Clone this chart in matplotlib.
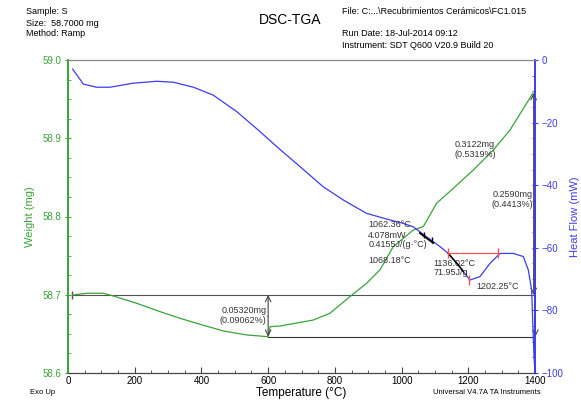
import numpy as np
import matplotlib
matplotlib.use('Agg')
import matplotlib.pyplot as plt
from matplotlib.ticker import MultipleLocator

plt.rcParams['font.family'] = ['Liberation Sans', 'DejaVu Sans']

# TGA: peso (mg) frente a temperatura
temp_tga = [14, 56, 106, 136, 206, 276, 336, 396, 466, 536, 600,
            606, 636, 735, 785, 845, 895, 935, 975, 1035, 1065,
            1105, 1155, 1215, 1275, 1325, 1394]
weight_mg = [58.6997, 58.7019, 58.7019, 58.6984, 58.6891, 58.6784, 58.6699,
             58.6622, 58.6537, 58.6486, 58.6464,
             58.6592, 58.6601, 58.6677, 58.6763, 58.6975, 58.7146, 58.7316,
             58.7614, 58.7827, 58.7870, 58.8169, 58.8360, 58.8594, 58.8850,
             58.9105, 58.9578]

# DSC: flujo de calor (mW)
temp_dsc = [14, 46, 86, 126, 196, 266, 316, 376, 435, 506, 576, 626, 696,
            765, 825, 895, 965, 1005, 1035, 1075, 1115, 1140, 1170, 1205,
            1235, 1265, 1295, 1335, 1365, 1380, 1390, 1393, 1397, 1400]
heat_flow = [-2.9, -7.7, -8.7, -8.7, -7.4, -6.8, -7.1, -8.7, -11.2, -16.5,
             -22.9, -27.7, -34.1, -40.5, -44.7, -49.0, -51.1, -52.2, -53.3,
             -56.5, -59.6, -61.8, -65.5, -70.3, -69.2, -65.0, -61.8, -61.8,
             -62.8, -67.1, -73.5, -83.1, -94.8, -100]

# Escalones de peso
step_temp = 600
w_start = 58.6997
w_min = 58.6464
w_end = 58.9578
end_temp = 1396

# Pico DSC
peak_start, peak_end, peak_min = 1140, 1290, 1202.25
peak_base = -61.8

green = '#3aa33a'
blue = '#3c3cf0'

fig = plt.figure(figsize=(5.81, 4.0), dpi=100)
ax = fig.add_axes([68/581, 1 - 373/400, 467/581, 313/400])
ax2 = ax.twinx()

ax.plot(temp_tga, weight_mg, color=green, lw=0.9, zorder=3)
ax2.plot(temp_dsc, heat_flow, color=blue, lw=0.9, zorder=3)

ax.set_xlim(0, 1400)
ax.set_ylim(58.6, 59.0)
ax2.set_ylim(-100, 0)

# lineas horizontales de referencia
ax.plot([12, 1400], [w_start, w_start], color='#555555', lw=0.8)
ax.plot([12], [w_start], marker='|', color='#555555', ms=6)
ax.plot([step_temp, 1400], [w_min, w_min], color='#333333', lw=0.8)

arr = dict(arrowstyle='->', color='#444444', lw=0.8, shrinkA=0, shrinkB=0)
ax.annotate('', xy=(step_temp, w_start), xytext=(step_temp, 58.672), arrowprops=arr)
ax.annotate('', xy=(step_temp, w_min), xytext=(step_temp, 58.672), arrowprops=arr)
ax.text(step_temp - 5, 58.6735, '0.05320mg\n(0.09062%)', ha='right', va='center',
        fontsize=6.5, color='#333333', linespacing=1.1)

ax.annotate('', xy=(end_temp, w_end), xytext=(end_temp, 58.82), arrowprops=arr)
ax.annotate('', xy=(end_temp, w_start), xytext=(end_temp, 58.82), arrowprops=arr)
ax.annotate('', xy=(end_temp + 5, w_min), xytext=(end_temp + 5, 58.82), arrowprops=arr)
ax.text(1160, 58.886, '0.3122mg\n(0.5319%)', ha='left', va='center',
        fontsize=6.5, color='#333333', linespacing=1.1)
ax.text(1393, 58.822, '0.2590mg\n(0.4413%)', ha='right', va='center',
        fontsize=6.5, color='#333333', linespacing=1.1)

# anotaciones DSC
t_on = np.linspace(1055, 1095, 10)
ax2.plot(t_on, np.interp(t_on, temp_dsc, heat_flow) - 0.4, color='black', lw=1.3, zorder=4)
ax2.plot([1068, 1090], np.interp([1068, 1090], temp_dsc, heat_flow), marker='|',
         color='black', ms=5, lw=0, zorder=4)
t_pk = np.linspace(1140, 1185, 10)
ax2.plot(t_pk, np.interp(t_pk, temp_dsc, heat_flow), color='black', lw=1.1, zorder=4)
ax2.plot([peak_start, peak_end], [peak_base, peak_base], color='#ff5050', lw=0.9, zorder=4)
ax2.plot([peak_start, peak_end, peak_min], [peak_base, peak_base, -70.3], marker='|',
         color='#ff5050', ms=7, lw=0, zorder=5)

ax2.text(900, -52.5, '1062.36°C', fontsize=6.5, color='#333333', va='center')
ax2.text(900, -57.5, '4.078mW\n0.4155J/(g·°C)', fontsize=6.5, color='#333333',
         va='center', linespacing=1.1)
ax2.text(900, -64.0, '1068.18°C', fontsize=6.5, color='#333333', va='center')
ax2.text(1095, -66.5, '1136.02°C\n71.95J/g', fontsize=6.5, color='#333333',
         va='center', linespacing=1.1)
ax2.text(1225, -72.5, '1202.25°C', fontsize=6.5, color='#333333', va='center')

# ejes y ticks
ax.xaxis.set_major_locator(MultipleLocator(200))
ax.xaxis.set_minor_locator(MultipleLocator(50))
ax.yaxis.set_major_locator(MultipleLocator(0.1))
ax.yaxis.set_minor_locator(MultipleLocator(0.025))
ax.yaxis.set_major_formatter(matplotlib.ticker.FormatStrFormatter('%.1f'))
ax2.yaxis.set_major_locator(MultipleLocator(20))
ax2.yaxis.set_minor_locator(MultipleLocator(5))

ax.tick_params(axis='x', which='major', direction='in', length=4, labelsize=7,
               color='#444444', pad=2)
ax.tick_params(axis='x', which='minor', direction='in', length=2, color='#444444')
ax.tick_params(axis='y', which='major', direction='inout', length=5, labelsize=7,
               color=green, labelcolor=green, pad=2)
ax.tick_params(axis='y', which='minor', direction='in', length=2.5, color=green)
ax2.tick_params(axis='y', which='major', direction='inout', length=5, labelsize=7,
                color=blue, labelcolor=blue, pad=2)
ax2.tick_params(axis='y', which='minor', direction='in', length=2.5, color=blue)

for a in (ax, ax2):
    a.spines['left'].set_color(green)
    a.spines['right'].set_color(blue)
    a.spines['top'].set_color('#888888')
    a.spines['bottom'].set_color('#444444')
    a.spines['left'].set_linewidth(1.2)
    a.spines['right'].set_linewidth(1.2)

ax.set_ylabel('Weight (mg)', color=green, fontsize=8, labelpad=6)
ax2.set_ylabel('Heat Flow (mW)', color=blue, fontsize=8, labelpad=5)
ax.set_xlabel('Temperature (°C)', fontsize=8.5, labelpad=1)

# cabecera
fig.text(26/581, 1 - 12/400, 'Sample: S', fontsize=6.5, va='center')
fig.text(26/581, 1 - 23/400, 'Size:  58.7000 mg', fontsize=6.5, va='center')
fig.text(26/581, 1 - 34/400, 'Method: Ramp', fontsize=6.5, va='center')
fig.text(290/581, 1 - 20/400, 'DSC-TGA', fontsize=10, va='center', ha='center')
fig.text(342/581, 1 - 12/400, 'File: C:...\\Recubrimientos Cerámicos\\FC1.015',
         fontsize=6.5, va='center')
fig.text(342/581, 1 - 34/400, 'Run Date: 18-Jul-2014 09:12', fontsize=6.5, va='center')
fig.text(342/581, 1 - 45/400, 'Instrument: SDT Q600 V20.9 Build 20', fontsize=6.5, va='center')
fig.text(30/581, 1 - 392/400, 'Exo Up', fontsize=5.5, va='center')
fig.text(433/581, 1 - 392/400, 'Universal V4.7A TA Instruments', fontsize=5.5, va='center')

fig.savefig('out.png', dpi=100)
